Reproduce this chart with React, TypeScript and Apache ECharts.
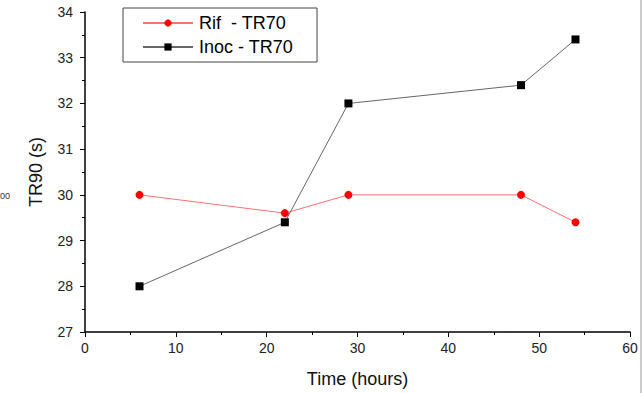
import React, { useEffect, useRef } from "react";
import * as echarts from "echarts";

const rifTimes = [6, 22, 29, 48, 54];
const rifValues = [30, 29.6, 30, 30, 29.4];
const inocTimes = [6, 22, 29, 48, 54];
const inocValues = [28, 29.4, 32, 32.4, 33.4];
const seriesNames = ["Rif  - TR70", "Inoc - TR70"];

export default function App() {
  const ref = useRef<HTMLDivElement>(null);
  useEffect(() => {
    const chart = echarts.init(ref.current!, null, { renderer: "svg" });
    const font = "'Liberation Sans', Arial, sans-serif";
    chart.setOption({
      animation: false,
      backgroundColor: "#fff",
      grid: { left: 85, top: 12, right: 12, bottom: 60, containLabel: false },
      legend: {
        left: 123,
        top: 8,
        orient: "vertical",
        itemWidth: 50,
        itemHeight: 9,
        itemGap: 6,
        padding: [6, 24, 6, 19],
        borderColor: "#444",
        borderWidth: 1,
        textStyle: { fontFamily: font, fontSize: 18, color: "#000", padding: [0, 0, 0, 1] },
        data: seriesNames,
      },
      xAxis: {
        type: "value",
        min: 0,
        max: 60,
        interval: 10,
        name: "Time (hours)",
        nameLocation: "middle",
        nameGap: 38,
        nameTextStyle: { fontFamily: font, fontSize: 18, color: "#111" },
        axisLine: { onZero: false, lineStyle: { color: "#000", width: 1.5 } },
        axisTick: { inside: false, length: 5, lineStyle: { color: "#000" } },
        minorTick: { show: true, splitNumber: 2, length: 3, lineStyle: { color: "#000" } },
        axisLabel: { fontFamily: font, fontSize: 14, color: "#222", margin: 9 },
        splitLine: { show: false },
      },
      yAxis: {
        type: "value",
        min: 27,
        max: 34,
        interval: 1,
        name: "TR90 (s)",
        nameLocation: "middle",
        nameGap: 40,
        nameRotate: 90,
        nameTextStyle: { fontFamily: font, fontSize: 18, color: "#111" },
        axisLine: { show: true, onZero: false, lineStyle: { color: "#000", width: 1.5 } },
        axisTick: { show: true, inside: false, length: 5, lineStyle: { color: "#000" } },
        minorTick: { show: true, splitNumber: 2, length: 3, lineStyle: { color: "#000" } },
        axisLabel: { fontFamily: font, fontSize: 14, color: "#222", margin: 12 },
        splitLine: { show: false },
      },
      series: [
        {
          name: seriesNames[0],
          type: "line",
          data: rifTimes.map((t, i) => [t, rifValues[i]]),
          symbol: "circle",
          symbolSize: 8,
          itemStyle: { color: "#ff0000" },
          lineStyle: { color: "#ff7070", width: 1 },
        },
        {
          name: seriesNames[1],
          type: "line",
          data: inocTimes.map((t, i) => [t, inocValues[i]]),
          symbol: "rect",
          symbolSize: 8,
          itemStyle: { color: "#000" },
          lineStyle: { color: "#666", width: 1 },
        },
      ],
      graphic: [
        {
          type: "text",
          left: 0,
          top: 191,
          style: { text: "00", fontFamily: font, fontSize: 9, fill: "#333" },
        },
        {
          type: "line",
          shape: { x1: 641, y1: 0, x2: 641, y2: 393 },
          style: { stroke: "#999", lineWidth: 1 },
        },
      ],
    });
    return () => chart.dispose();
  }, []);
  return <div ref={ref} style={{ width: 642, height: 393, position: "fixed", left: 0, top: 0 }} />;
}
